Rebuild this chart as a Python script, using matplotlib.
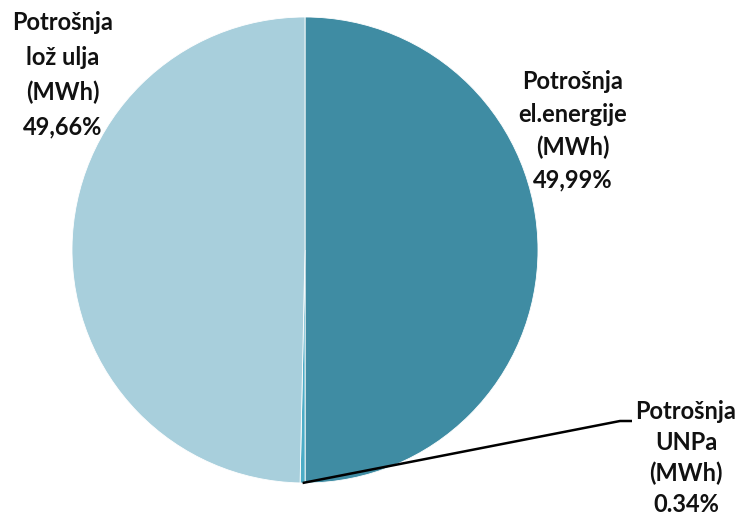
import numpy as np
import matplotlib
matplotlib.use("Agg")
import matplotlib.pyplot as plt

categories = ["Potrošnja\nel.energije\n(MWh)", "Potrošnja\nUNPa\n(MWh)", "Potrošnja\nlož ulja\n(MWh)"]
values = [49.99, 0.34, 49.66]
pct_labels = ["49,99%", "0.34%", "49,66%"]
colors = ["#3F8CA3", "#4BACC6", "#A8CFDC"]

W, H = 740, 518
fig = plt.figure(figsize=(W / 100, H / 100), dpi=100)
cx, cy, r = 305, 250, 233
ax = fig.add_axes([(cx - r) / W, (H - cy - r) / H, 2 * r / W, 2 * r / H])

wedges, _ = ax.pie(values, colors=colors, startangle=90, counterclock=False,
                   radius=1, center=(0, 0),
                   wedgeprops=dict(linewidth=0.6, edgecolor="white"))
ax.set_xlim(-1, 1)
ax.set_ylim(-1, 1)
ax.set_aspect("equal")
ax.axis("off")

def px2data(px, py):
    return (px - cx) / r, (cy - py) / r

font = dict(family=["Lato", "DejaVu Sans"], fontweight="bold", fontsize=17,
            color="#111111", ha="center", va="center")

# label positions (pixel centres) and line spacing
pos = [(573, 131), (686, 458), (63, 75)]
spacing = [1.5, 1.4, 1.6]
for i, (cat, p) in enumerate(zip(categories, pct_labels)):
    x, y = px2data(*pos[i])
    ax.text(x, y, cat + "\n" + p, clip_on=False, linespacing=spacing[i], **font)

# leader line for the small slice
w = wedges[1]
mid = np.deg2rad((w.theta1 + w.theta2) / 2)
x0, y0 = np.cos(mid), np.sin(mid)
x1, y1 = px2data(620, 421)
x2, y2 = px2data(632, 421)
ax.plot([x0, x1, x2], [y0, y1, y2], color="black", lw=1.8, clip_on=False,
        solid_capstyle="butt")

fig.savefig("out.png", dpi=100, facecolor="white")
